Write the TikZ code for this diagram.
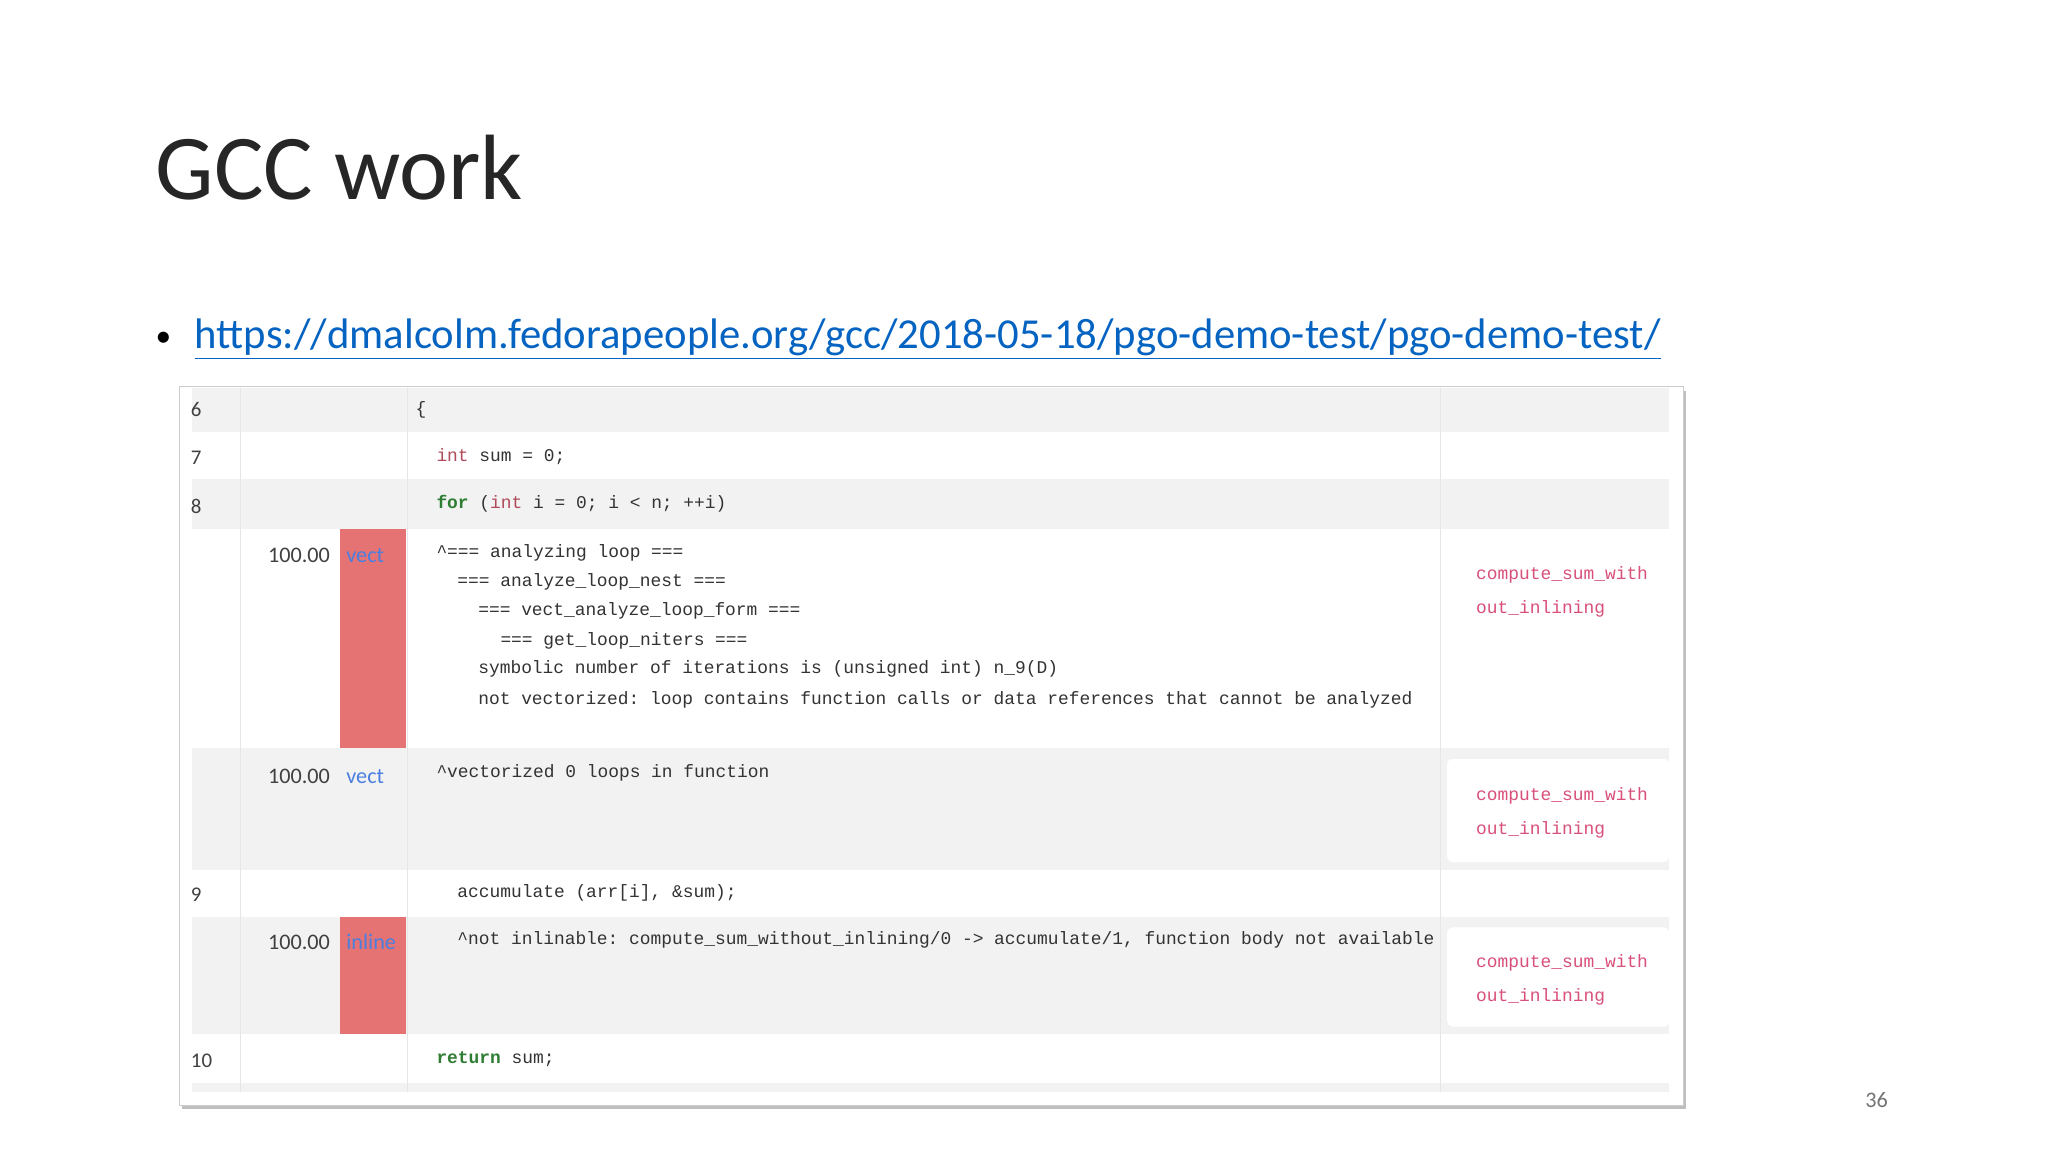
\documentclass[tikz,border=0pt]{standalone}
\usepackage{fontspec}
\setmainfont{Carlito}
\setmonofont{Liberation Mono}
\begin{document}
\begin{tikzpicture}[x=1pt,y=-1pt,
  code/.style={anchor=base west,inner sep=0,font=\fontsize{13.7}{16}\selectfont\ttfamily,text=codegray},
  pinktxt/.style={anchor=base west,inner sep=0,font=\fontsize{13.7}{16}\selectfont\ttfamily,text=pinkc},
  lnum/.style={anchor=base west,inner sep=0,font=\fontsize{16}{18}\selectfont,text=black!75},
  pct/.style={anchor=base west,inner sep=0,font=\fontsize{17}{19}\selectfont,text=black!75},
  panel/.style={fill=white,draw=none,rounded corners=4}]
\definecolor{rowgray}{HTML}{F2F2F2}
\definecolor{codegray}{HTML}{333333}
\definecolor{pinkc}{HTML}{D9507A}
\definecolor{kwred}{HTML}{B04A5A}
\definecolor{kwgreen}{HTML}{2E7D32}
\definecolor{linkblue}{HTML}{0563C1}
\definecolor{redbar}{HTML}{E57373}
\definecolor{sepc}{HTML}{E6E6E6}
\definecolor{tagblue}{HTML}{4A7FE0}
\useasboundingbox (0,0) rectangle (1568,882);
\fill[white] (0,0) rectangle (1568,882);
% title and link
\node[anchor=base west,inner sep=0,font=\fontsize{71}{76}\selectfont,text=black!85] (title) at (119,153) {GCC work};
\node[anchor=base west,inner sep=0,font=\fontsize{24}{28}\selectfont] (bul) at (119,265) {•};
\node[anchor=base west,inner sep=0,font=\fontsize{32.7}{36}\selectfont,text=linkblue] (link) at (149,267) {\underline{https://dmalcolm.fedorapeople.org/gcc/2018-05-18/pgo-demo-test/pgo-demo-test/}};
% table frame with shadow
\fill[black!25] (139,299) rectangle (1291,849);
\fill[white] (137,296) rectangle (1289,846);
\draw[black!20] (137,296) rectangle (1289,846);
% gray rows
\fill[rowgray] (147,297) rectangle (1278,331);
\fill[rowgray] (147,367) rectangle (1278,405);
\fill[rowgray] (147,573) rectangle (1278,666);
\fill[rowgray] (147,702) rectangle (1278,792);
\fill[rowgray] (147,829) rectangle (1278,836);
% column separators
\foreach \xx in {184,312,1103} \draw[sepc] (\xx,297) -- (\xx,836);
% red bars
\fill[redbar] (260,405) rectangle (311,573);
\fill[redbar] (260,702) rectangle (311,792);
% panels
\fill[panel] (1108,413) rectangle (1278,565);
\fill[panel] (1108,581) rectangle (1278,660);
\fill[panel] (1108,710) rectangle (1278,786);
% line numbers
\node[lnum] (l6) at (146,319) {6};
\node[lnum] (l7) at (146,356) {7};
\node[lnum] (l8) at (146,393) {8};
\node[lnum] (l9) at (146,690) {9};
\node[lnum] (l10) at (146,817) {10};
% percents
\node[pct] (p1) at (205,431) {100.00};
\node[pct,text=tagblue] (t1) at (265,431) {vect};
\node[pct] (p2) at (205,600) {100.00};
\node[pct,text=tagblue] (t2) at (265,600) {vect};
\node[pct] (p3) at (205,727) {100.00};
\node[pct,text=tagblue] (t3) at (265,727) {inline};
% code
\node[code] (c6) at (318,317) {\{};
\node[code] (c7) at (334,353) {\textcolor{kwred}{int} sum = 0;};
\node[code] (c8) at (334,389) {\textcolor{kwgreen}{\bfseries for} (\textcolor{kwred}{int} i = 0; i < n; ++i)};
\node[code] (r1) at (334,427) {\string^=== analyzing loop ===};
\node[code] (r2) at (350,449) {=== analyze\_loop\_nest ===};
\node[code] (r3) at (366,471) {=== vect\_analyze\_loop\_form ===};
\node[code] (r4) at (383,494) {=== get\_loop\_niters ===};
\node[code] (r5) at (366,516) {symbolic number of iterations is (unsigned int) n\_9(D)};
\node[code] (r6) at (366,539) {not vectorized: loop contains function calls or data references that cannot be analyzed};
\node[code] (v2) at (334,595) {\string^vectorized 0 loops in function};
\node[code] (c9) at (350,687) {accumulate (arr[i], \&sum);};
\node[code] (in) at (350,723) {\string^not inlinable: compute\_sum\_without\_inlining/0 -> accumulate/1, function body not available};
\node[code] (c10) at (334,814) {\textcolor{kwgreen}{\bfseries return} sum;};
% pink
\foreach \yy/\nm in {444/a,613/b,741/c}{
  \node[pinktxt] (pk\nm1) at (1130,\yy) {compute\_sum\_with};
  \node[pinktxt] (pk\nm2) at (1130,\yy+26) {out\_inlining};
}
\node[anchor=base west,inner sep=0,font=\fontsize{17}{19}\selectfont,text=black!55] (pg) at (1428,848) {36};
\end{tikzpicture}
\end{document}
